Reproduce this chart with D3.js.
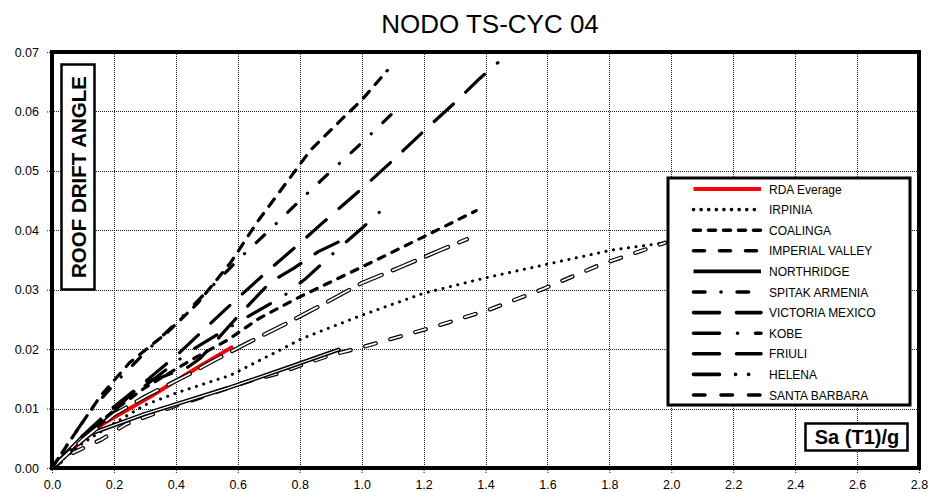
<!DOCTYPE html>
<html>
<head>
<meta charset="utf-8">
<script src="https://cdn.jsdelivr.net/npm/d3@7/dist/d3.min.js"></script>
<style>
  body { margin: 0; background: #fff; }
  svg { display: block; font-family: Arial, "Liberation Sans", sans-serif; }
</style>
</head>
<body>
<svg id="chart" width="935" height="492"></svg>
<script>
// Each record: [Sa(T1)/g, roof drift angle]
const rdaEverage = [[0, 0], [0.08, 0.0038], [0.166, 0.0075], [0.317, 0.012], [0.457, 0.0165], [0.58, 0.0203]];
const irpinia = [[0, 0], [0.1, 0.0042], [0.2, 0.0075], [0.3, 0.0106], [0.4, 0.0126], [0.576, 0.0156], [0.738, 0.0199], [0.808, 0.0218], [1.0, 0.0257], [1.2, 0.0294], [1.4, 0.032], [1.6, 0.0343], [1.81, 0.0367], [1.98, 0.0379]];
const coalinga = [[0, 0], [0.1, 0.0052], [0.2, 0.0097], [0.3, 0.0135], [0.45, 0.0182], [0.566, 0.0215], [0.67, 0.0252], [0.8, 0.0288], [1.0, 0.0338], [1.2, 0.0389], [1.37, 0.0433]];
const imperialValley = [[0, 0], [0.07, 0.0026], [0.16, 0.0048], [0.24, 0.0074], [0.39, 0.0103], [0.64, 0.0147], [0.73, 0.0159], [0.81, 0.0174], [0.9, 0.019], [1.0, 0.0203], [1.23, 0.0237], [1.41, 0.0266], [1.58, 0.030], [1.77, 0.0342], [1.98, 0.0379]];
const northridge = [[0, 0], [0.1, 0.0053], [0.3, 0.0091], [0.565, 0.0134], [0.75, 0.0167], [0.925, 0.0199]];
const spitakArmenia = [[0, 0], [0.045, 0.0036], [0.122, 0.0095], [0.213, 0.0148], [0.31, 0.0199], [0.41, 0.0249], [0.506, 0.030], [0.6, 0.035], [0.7, 0.0399], [0.8, 0.045], [0.9, 0.0499], [1.0, 0.0547], [1.1, 0.0597]];
const victoriaMexico = [[0, 0], [0.1, 0.0055], [0.2, 0.0103], [0.3, 0.0145], [0.36, 0.0154], [0.44, 0.017], [0.48, 0.0185], [0.6, 0.0255], [0.706, 0.0313], [0.78, 0.0336], [0.86, 0.0364], [0.948, 0.0386]];
const kobe = [[0, 0], [0.1, 0.0048], [0.2, 0.0093], [0.3, 0.0138], [0.45, 0.0198], [0.6, 0.0245], [0.75, 0.029], [0.82, 0.0319], [0.927, 0.037], [1.0, 0.0403], [1.09, 0.0446]];
const friuli = [[0, 0], [0.1, 0.005], [0.2, 0.0097], [0.3, 0.0145], [0.41, 0.0193], [0.505, 0.024], [0.6, 0.0286], [0.7, 0.0333], [0.8, 0.0378], [0.873, 0.0412], [1.007, 0.0473], [1.11, 0.0522], [1.207, 0.057], [1.31, 0.0619], [1.374, 0.0652], [1.44, 0.0682]];
const helena = [[0, 0], [0.1, 0.0048], [0.2, 0.009], [0.3, 0.012], [0.44, 0.0157], [0.52, 0.018], [0.63, 0.021], [0.76, 0.0244], [0.88, 0.0277], [1.0, 0.0311], [1.125, 0.0338], [1.256, 0.0367], [1.34, 0.0385]];
const santaBarbara = [[0, 0], [0.07, 0.0055], [0.155, 0.012], [0.25, 0.0177], [0.37, 0.0227], [0.47, 0.0277], [0.576, 0.0345], [0.667, 0.0417], [0.764, 0.0485], [0.835, 0.0535], [0.94, 0.0589], [1.0, 0.0619], [1.083, 0.0669]];

const seriesNames = ['RDA Everage', 'IRPINIA', 'COALINGA', 'IMPERIAL VALLEY', 'NORTHRIDGE', 'SPITAK ARMENIA',
  'VICTORIA MEXICO', 'KOBE', 'FRIULI', 'HELENA', 'SANTA BARBARA'];
const seriesData = [rdaEverage, irpinia, coalinga, imperialValley, northridge, spitakArmenia,
  victoriaMexico, kobe, friuli, helena, santaBarbara];

const xTicks = [0, 0.2, 0.4, 0.6, 0.8, 1.0, 1.2, 1.4, 1.6, 1.8, 2.0, 2.2, 2.4, 2.6, 2.8];
const yTicks = [0, 0.01, 0.02, 0.03, 0.04, 0.05, 0.06, 0.07];

// line look per series: dash pattern, and whether Excel drew it as a hollow (double) stroke
const STYLES = {
  'RDA Everage':     { color: '#ff0000', width: 4, dash: null },
  'IRPINIA':         { color: '#000', width: 3, dash: '0.1,7.5' },
  'COALINGA':        { color: '#000', width: 3.2, dash: '7,8' },
  'IMPERIAL VALLEY': { color: '#000', width: 3.2, dash: '11,15', hollow: true },
  'NORTHRIDGE':      { color: '#000', width: 3.2, dash: null, hollow: true, inner: 1.2 },
  'SPITAK ARMENIA':  { color: '#000', width: 3.2, dash: '11.5,16,0.1,16' },
  'VICTORIA MEXICO': { color: '#000', width: 3.2, dash: '26,17' },
  'KOBE':            { color: '#000', width: 3.2, dash: '26,18,0.1,18' },
  'FRIULI':          { color: '#000', width: 3.2, dash: '26,17' },
  'HELENA':          { color: '#000', width: 3.2, dash: '26,16,0.1,13,0.1,16', hollow: true, plotDash: '24,12' },
  'SANTA BARBARA':   { color: '#000', width: 3.2, dash: '11.5,16', plotDash: '9,9' }
};

const svg = d3.select('#chart');
const plot = { left: 52, right: 919, top: 52, bottom: 468 };

const x = d3.scaleLinear().domain([0, 2.8]).range([plot.left, plot.right]);
const y = d3.scaleLinear().domain([0, 0.07]).range([plot.bottom, plot.top]);

// Title
svg.append('text')
  .attr('x', 490)
  .attr('y', 33)
  .attr('text-anchor', 'middle')
  .style('font-size', '26px')
  .text('NODO TS-CYC 04');

// Dotted grid
const grid = svg.append('g').attr('class', 'grid')
  .attr('stroke', '#222')
  .attr('stroke-width', 1)
  .attr('stroke-dasharray', '1,1');

grid.selectAll('line.v')
  .data(xTicks)
  .join('line')
  .attr('class', 'v')
  .attr('x1', d => Math.round(x(d)) + 0.5)
  .attr('x2', d => Math.round(x(d)) + 0.5)
  .attr('y1', plot.top)
  .attr('y2', plot.bottom);

grid.selectAll('line.h')
  .data(yTicks)
  .join('line')
  .attr('class', 'h')
  .attr('x1', plot.left)
  .attr('x2', plot.right)
  .attr('y1', d => Math.round(y(d)) + 0.5)
  .attr('y2', d => Math.round(y(d)) + 0.5);

// Axes (labels and outside ticks only)
const xAxis = svg.append('g')
  .attr('transform', `translate(0,${plot.bottom})`)
  .call(d3.axisBottom(x).tickValues(xTicks).tickFormat(d3.format('.1f')).tickSize(6).tickPadding(6));

const yAxis = svg.append('g')
  .attr('transform', `translate(${plot.left},0)`)
  .call(d3.axisLeft(y).tickValues(yTicks).tickFormat(d3.format('.2f')).tickSize(6).tickPadding(7));

[xAxis, yAxis].forEach(axis => {
  axis.select('.domain').remove();
  axis.selectAll('text').style('font-size', '12.5px').attr('fill', '#000').style('font-family', 'Arial, "Liberation Sans", sans-serif');
  axis.selectAll('line').attr('stroke', '#222').attr('stroke-dasharray', '1,1');
});

// Series lines
const line = d3.line()
  .x(d => x(d[0]))
  .y(d => y(d[1]));

const lines = svg.append('g').attr('class', 'series')
  .attr('fill', 'none')
  .attr('stroke-linecap', 'round')
  .attr('stroke-linejoin', 'round');

seriesNames.forEach((name, i) => {
  const s = STYLES[name];
  const dash = s.plotDash || s.dash;
  if (s.hollow) {
    lines.append('path')
      .attr('d', line(seriesData[i]))
      .attr('stroke', '#000')
      .attr('stroke-width', s.width + 1)
      .attr('stroke-dasharray', dash);
    lines.append('path')
      .attr('d', line(seriesData[i]))
      .attr('stroke', '#fff')
      .attr('stroke-width', s.inner || 1.8)
      .attr('stroke-dasharray', dash);
  } else {
    lines.append('path')
      .attr('d', line(seriesData[i]))
      .attr('stroke', s.color)
      .attr('stroke-width', s.width)
      .attr('stroke-dasharray', dash);
  }
});

// Plot frame
svg.append('rect')
  .attr('x', plot.left)
  .attr('y', plot.top)
  .attr('width', plot.right - plot.left)
  .attr('height', plot.bottom - plot.top)
  .attr('fill', 'none')
  .attr('stroke', '#000')
  .attr('stroke-width', 4);

// Y axis title box
svg.append('rect')
  .attr('x', 61.5).attr('y', 64.5)
  .attr('width', 33).attr('height', 225)
  .attr('fill', '#fff').attr('stroke', '#000').attr('stroke-width', 2.5);

svg.append('text')
  .attr('transform', 'translate(85.5,177) rotate(-90)')
  .attr('text-anchor', 'middle')
  .style('font-size', '20.5px')
  .style('font-weight', 'bold')
  .text('ROOF DRIFT ANGLE');

// X axis title box
svg.append('rect')
  .attr('x', 805.5).attr('y', 423.5)
  .attr('width', 102).attr('height', 27)
  .attr('fill', '#fff').attr('stroke', '#000').attr('stroke-width', 2.5);

svg.append('text')
  .attr('x', 857)
  .attr('y', 444)
  .attr('text-anchor', 'middle')
  .style('font-size', '20px')
  .style('font-weight', 'bold')
  .text('Sa (T1)/g');

// Legend
const legend = svg.append('g').attr('class', 'legend');

legend.append('rect')
  .attr('x', 668).attr('y', 178)
  .attr('width', 242).attr('height', 227)
  .attr('fill', '#fff').attr('stroke', '#000').attr('stroke-width', 3);

const rowY = i => 189 + i * 20.6;

legend.selectAll('line.key')
  .data(seriesNames)
  .join('line')
  .attr('class', 'key')
  .attr('x1', 693.5).attr('x2', 761)
  .attr('y1', (d, i) => rowY(i)).attr('y2', (d, i) => rowY(i))
  .attr('stroke', d => STYLES[d].color)
  .attr('stroke-width', d => d === 'RDA Everage' ? 4 : 3.6)
  .attr('stroke-linecap', d => STYLES[d].dash ? 'round' : 'butt')
  .attr('stroke-dasharray', d => STYLES[d].dash);

legend.selectAll('text')
  .data(seriesNames)
  .join('text')
  .attr('x', 769)
  .attr('y', (d, i) => rowY(i) + 4.5)
  .style('font-size', '12px')
  .text(d => d);
</script>
</body>
</html>
